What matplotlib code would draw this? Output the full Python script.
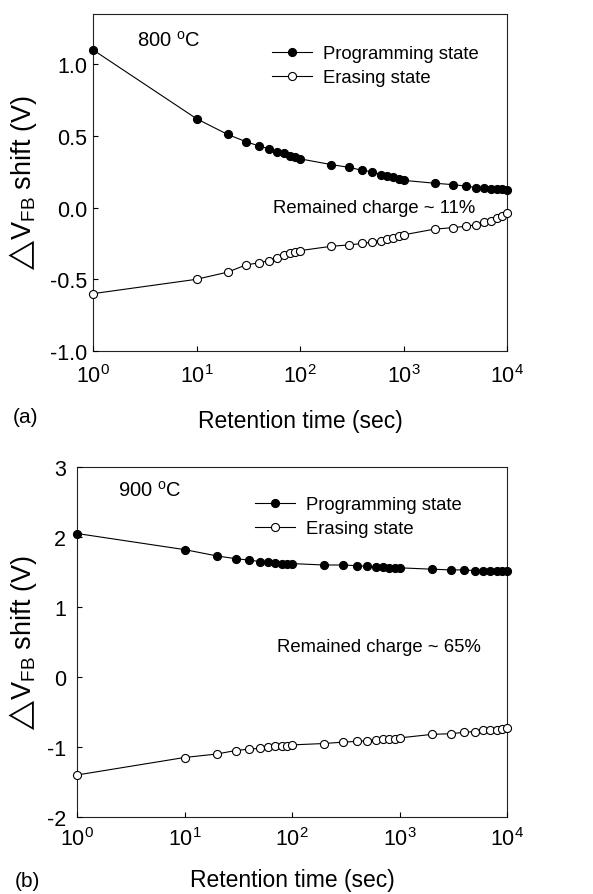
import matplotlib
matplotlib.use("Agg")
import matplotlib.pyplot as plt

plt.rcParams['font.family'] = ['Liberation Sans', 'DejaVu Sans']
plt.rcParams['mathtext.fontset'] = 'custom'
plt.rcParams['mathtext.rm'] = 'Liberation Sans'
plt.rcParams['mathtext.it'] = 'Liberation Sans:italic'
plt.rcParams['mathtext.bf'] = 'Liberation Sans:bold'
plt.rcParams['mathtext.fallback'] = 'stixsans'
plt.rcParams['axes.unicode_minus'] = False

# ---- data ----
retention_time = [1, 10, 20, 30, 40, 50, 60, 70, 80, 90, 100,
                  200, 300, 400, 500, 600, 700, 800, 900, 1000,
                  2000, 3000, 4000, 5000, 6000, 7000, 8000, 9000, 10000]

prog_800 = [1.10, 0.62, 0.51, 0.46, 0.43, 0.41, 0.39, 0.38, 0.36, 0.35, 0.34,
            0.30, 0.28, 0.26, 0.25, 0.23, 0.22, 0.21, 0.20, 0.19,
            0.17, 0.16, 0.15, 0.14, 0.14, 0.13, 0.13, 0.13, 0.12]
erase_800 = [-0.60, -0.50, -0.45, -0.40, -0.385, -0.37, -0.35, -0.33, -0.32, -0.31, -0.30,
             -0.27, -0.26, -0.25, -0.24, -0.23, -0.22, -0.21, -0.20, -0.19,
             -0.15, -0.14, -0.13, -0.12, -0.10, -0.09, -0.07, -0.06, -0.04]

prog_900 = [2.05, 1.82, 1.73, 1.69, 1.67, 1.65, 1.64, 1.63, 1.62, 1.62, 1.62,
            1.60, 1.60, 1.59, 1.58, 1.57, 1.57, 1.56, 1.56, 1.56,
            1.54, 1.53, 1.53, 1.52, 1.52, 1.52, 1.51, 1.51, 1.51]
erase_900 = [-1.40, -1.15, -1.10, -1.05, -1.03, -1.02, -1.00, -0.99, -0.98, -0.98, -0.97,
             -0.95, -0.93, -0.92, -0.91, -0.90, -0.89, -0.89, -0.88, -0.87,
             -0.82, -0.81, -0.79, -0.78, -0.76, -0.75, -0.75, -0.74, -0.73]

series_labels = ["Programming state", "Erasing state"]
temps = ["800 $^{\\rm o}$C", "900 $^{\\rm o}$C"]
remained = ["Remained charge ~ 11%", "Remained charge ~ 65%"]
panel_tags = ["(a)", "(b)"]
yticks_a = [-1.0, -0.5, 0.0, 0.5, 1.0]
yticks_b = [-2, -1, 0, 1, 2, 3]
xticks = [1, 10, 100, 1000, 10000]

W, H = 593, 895
fig = plt.figure(figsize=(W / 100, H / 100), dpi=100)

def px_axes(l, t, r, b):
    return fig.add_axes([l / W, 1 - b / H, (r - l) / W, (b - t) / H])

ax_a = px_axes(93, 15, 507, 352)
ax_b = px_axes(77, 468, 507, 818)

TICK_FS = 15.5
LABEL_FS = 16.5
YLABEL_FS = 19.5
LEG_FS = 13.3

def style(ax, prog, erase, ylim, yticks, yfmt, xpad, ypad):
    ax.plot(retention_time, prog, '-', color='black', lw=0.8, marker='o',
            ms=5.8, mfc='black', mec='black', mew=0.8, label=series_labels[0])
    ax.plot(retention_time, erase, '-', color='black', lw=0.8, marker='o',
            ms=5.8, mfc='white', mec='black', mew=0.8, label=series_labels[1])
    ax.set_xscale('log')
    ax.set_xlim(1, 10000)
    ax.set_ylim(*ylim)
    ax.set_xticks(xticks)
    ax.set_yticks(yticks)
    ax.set_yticklabels([yfmt.format(v) for v in yticks])
    ax.minorticks_off()
    ax.tick_params(axis='both', which='both', direction='in', length=3.5,
                   width=0.8, labelsize=TICK_FS, colors='black')
    ax.tick_params(axis='x', pad=xpad)
    ax.tick_params(axis='y', pad=ypad)
    for s in ax.spines.values():
        s.set_linewidth(0.8)
        s.set_color('#222222')
        s.set_zorder(0)
    for ln in ax.lines:
        ln.set_clip_on(False)

style(ax_a, prog_800, erase_800, (-1.0, 1.35), yticks_a, "{:.1f}", 9.5, 4)
style(ax_b, prog_900, erase_900, (-2, 3), yticks_b, "{:.0f}", 7.5, 8)

ylabel_text = r"$\bigtriangleup$V$_{\rm FB}$ shift (V)"

for ax, l, r, t, b, xl_base, leg_x, leg_y, temp, tx, ty, rem, rx, ry in [
    (ax_a, 93, 507, 15, 352, 428, 272, 46, temps[0], 137, 47, remained[0], 273, 212.7),
    (ax_b, 77, 507, 468, 818, 887, 255, 497, temps[1], 118, 497, remained[1], 277, 651.7),
]:
    w = r - l
    h = b - t
    ax.set_xlabel("Retention time (sec)", fontsize=LABEL_FS, va='baseline')
    ax.xaxis.set_label_coords(0.5, (b - xl_base) / h)
    ax.set_ylabel(ylabel_text, fontsize=YLABEL_FS, va='baseline')
    ax.yaxis.set_label_coords((31 - l) / w, 0.5)
    leg = ax.legend(loc='upper left', bbox_to_anchor=((leg_x - l) / w, (b - leg_y) / h),
                    frameon=False, fontsize=LEG_FS, handlelength=2.15,
                    handletextpad=0.6, labelspacing=0.38, borderpad=0,
                    borderaxespad=0)
    ax.text((tx - l) / w, (b - ty) / h, temp, transform=ax.transAxes,
            fontsize=14.5, va='baseline', ha='left')
    ax.text((rx - l) / w, (b - ry) / h, rem, transform=ax.transAxes,
            fontsize=LEG_FS, va='baseline', ha='left')

fig.text(13 / W, 1 - 423 / H, panel_tags[0], fontsize=15, va='baseline', ha='left')
fig.text(15 / W, 1 - 887 / H, panel_tags[1], fontsize=15, va='baseline', ha='left')

fig.savefig("out.png", dpi=100)
